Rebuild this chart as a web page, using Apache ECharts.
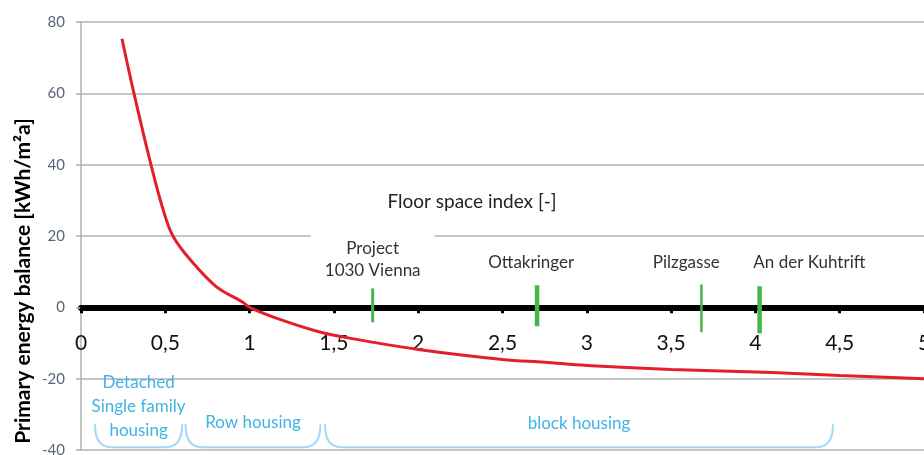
<!DOCTYPE html>
<html>
<head>
<meta charset="utf-8">
<script src="https://cdn.jsdelivr.net/npm/echarts@6/dist/echarts.min.js"></script>
<style>
  html, body { margin: 0; padding: 0; background: #fff; }
  #chart { width: 924px; height: 455px; }
</style>
</head>
<body>
<div id="chart"></div>
<script>
// curve: primary energy balance over floor space index
const fsi = [0.243, 0.314, 0.415, 0.487, 0.545, 0.647, 0.80, 0.96, 1.0, 1.18, 1.40, 1.60, 2.0, 2.5, 2.75, 3.0, 3.5, 4.1, 4.5, 5.0];
const balance = [75.3, 60, 40, 27.4, 20, 13.4, 5.9, 1.4, 0, -3.4, -6.7, -8.7, -11.8, -14.6, -15.4, -16.3, -17.4, -18.3, -19.1, -20];

// projects (green markers)
const projectNames = ['Project\n1030 Vienna', 'Ottakringer', 'Pilzgasse', 'An der Kuhtrift'];
const projectFsi = [1.73, 2.705, 3.68, 4.025];
const projectTop = [5.3, 6.2, 6.4, 5.9];
const projectBottom = [-4.2, -5.3, -7.0, -7.3];

// housing types (blue braces)
const groupNames = ['Detached\nSingle family\nhousing', 'Row housing', 'block housing'];
const groupFrom = [0.083, 0.62, 1.447];
const groupTo = [0.60, 1.42, 4.46];

const yTicks = { min: -40, max: 80, step: 20 };
const xTicks = { min: 0, max: 5, step: 0.5 };

// layout / style bits
const font = 'Lato, "Open Sans", sans-serif';
const gridTop = 22, gridBottom = 5, chartH = 455;
const markerWidths = [3, 4.5, 2.5, 4.5];
const labelAnchor = [[1.73, 13.4], [2.67, 12.6], [3.59, 12.6], [4.32, 12.6]];
const braceY = [-32.8, -39.2];
const groupTextY = [-27.7, -32.2, -32.5];

// x axis sits on y = 0: shift it up from the grid bottom
const plotH = chartH - gridTop - gridBottom;
const zeroOffset = -plotH * (0 - yTicks.min) / (yTicks.max - yTicks.min);

const chart = echarts.init(document.getElementById('chart'));

chart.setOption({
  animation: false,
  backgroundColor: '#fff',
  grid: { left: 81, right: 0, top: gridTop, bottom: gridBottom, outerBoundsMode: 'none' },
  xAxis: {
    type: 'value',
    min: xTicks.min,
    max: xTicks.max,
    interval: xTicks.step,
    offset: zeroOffset,
    axisLine: { onZero: false, lineStyle: { color: '#000', width: 6 } },
    axisTick: { show: true, length: 6, lineStyle: { color: '#000', width: 3 } },
    axisLabel: {
      margin: 25,
      fontSize: 21,
      color: '#111',
      fontFamily: font,
      formatter: v => String(v).replace('.', ',')
    },
    splitLine: { show: false }
  },
  yAxis: {
    type: 'value',
    min: yTicks.min,
    max: yTicks.max,
    interval: yTicks.step,
    axisLine: { show: true, lineStyle: { color: '#b0b0b0', width: 1.5 } },
    axisTick: { show: true, length: 5, lineStyle: { color: '#b0b0b0', width: 1.5 } },
    axisLabel: { margin: 16, fontSize: 15, color: '#5b6577', fontFamily: font },
    splitLine: { lineStyle: { color: '#b3b3b3', width: 1.5 } }
  },
  graphic: [
    {
      type: 'text', x: 23, y: 281, rotation: Math.PI / 2,
      style: {
        text: 'Primary energy balance [kWh/m²a]',
        align: 'center', verticalAlign: 'middle',
        font: 'bold 21px ' + font, fill: '#000'
      }
    },
    {
      type: 'text', x: 472, y: 202,
      style: {
        text: 'Floor space index [-]',
        align: 'center', verticalAlign: 'middle',
        font: '19px ' + font, fill: '#222'
      }
    }
  ],
  series: [
    {
      type: 'line',
      data: fsi.map((x, i) => [x, balance[i]]),
      smooth: 0.35,
      showSymbol: false,
      lineStyle: { color: '#e3202a', width: 3 },
      z: 5
    },
    {
      // project labels (white box cuts the gridline like in the figure)
      type: 'custom',
      data: projectNames.map((n, i) => [i]),
      z: 3,
      renderItem: (params, api) => {
        const i = api.value(0);
        const p = api.coord(labelAnchor[i]);
        return {
          type: 'text',
          style: {
            text: projectNames[i],
            x: p[0], y: p[1],
            align: 'center', verticalAlign: 'middle',
            font: '17px ' + font, fill: '#333',
            lineHeight: 22,
            backgroundColor: i === 0 ? '#fff' : null,
            padding: i === 0 ? [8, 14, 8, 14] : 0
          }
        };
      }
    },
    {
      type: 'custom',
      data: projectFsi.map((x, i) => [x, projectTop[i], projectBottom[i]]),
      z: 6,
      renderItem: (params, api) => {
        const a = api.coord([api.value(0), api.value(1)]);
        const b = api.coord([api.value(0), api.value(2)]);
        return {
          type: 'line',
          shape: { x1: a[0], y1: a[1], x2: b[0], y2: b[1] },
          style: { stroke: '#45b649', lineWidth: markerWidths[params.dataIndex] }
        };
      }
    },
    {
      type: 'custom',
      data: groupFrom.map((x, i) => [x, groupTo[i]]),
      z: 4,
      renderItem: (params, api) => {
        const i = params.dataIndex;
        const l = api.coord([api.value(0), braceY[0]]);
        const r = api.coord([api.value(1), braceY[1]]);
        const x0 = l[0], x1 = r[0], yt = l[1], yb = r[1], rr = 16;
        const path = 'M' + x0 + ',' + yt + ' Q' + x0 + ',' + yb + ' ' + (x0 + rr) + ',' + yb +
          ' L' + (x1 - rr) + ',' + yb + ' Q' + x1 + ',' + yb + ' ' + x1 + ',' + yt;
        const t = api.coord([(api.value(0) + api.value(1)) / 2, groupTextY[i]]);
        return {
          type: 'group',
          children: [
            { type: 'path', shape: { pathData: path }, style: { stroke: '#a5d8f3', lineWidth: 2, fill: null } },
            {
              type: 'text',
              style: {
                text: groupNames[i], x: t[0], y: t[1],
                align: 'center', verticalAlign: 'middle',
                font: '17px ' + font, fill: '#3fb3e5', lineHeight: 24
              }
            }
          ]
        };
      }
    }
  ]
});
</script>
</body>
</html>
